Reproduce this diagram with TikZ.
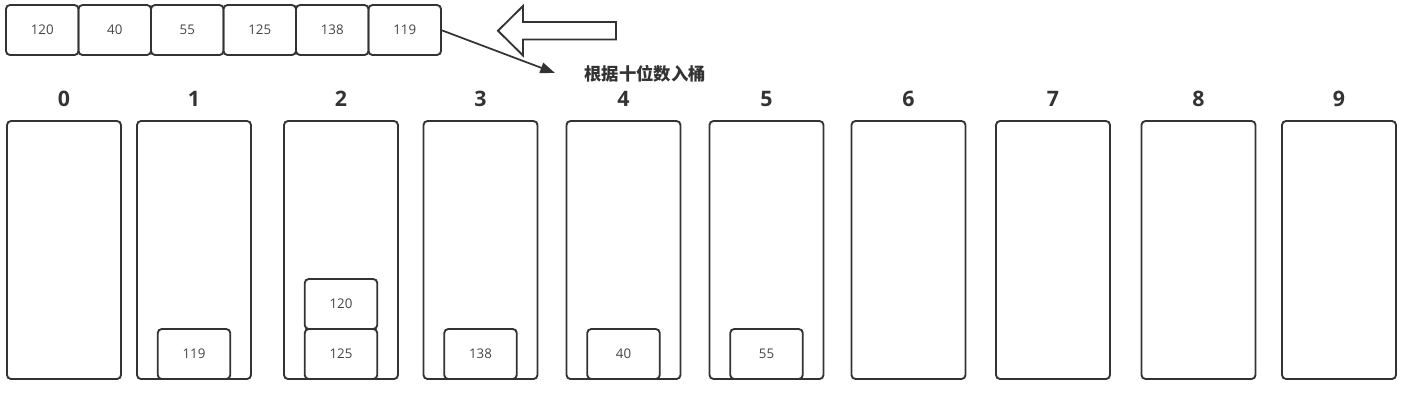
\documentclass[tikz,border=0pt]{standalone}
\usepackage{fontspec}
\setmainfont{Open Sans}
\newfontfamily\cjk{Noto Sans CJK SC}
\usetikzlibrary{arrows.meta}
\definecolor{linegray}{HTML}{333333}
\definecolor{textgray}{HTML}{444444}
\tikzset{>={Triangle[length=11pt,width=8pt]}}
\tikzset{
    cell/.style={draw=linegray,line width=1.4pt,rounded corners=3pt,inner sep=0pt,outer sep=0pt,
        minimum width=54.4pt,minimum height=37.5pt,text=textgray,
        font=\fontsize{10}{12}\selectfont},
    bucket/.style={draw=linegray,line width=1.4pt,rounded corners=3pt,inner sep=0pt,outer sep=0pt,
        minimum width=85.5pt,minimum height=193.5pt},
    bucketlabel/.style={text=linegray,font=\fontsize{16}{19}\selectfont\bfseries}
}

\begin{document}
\begin{tikzpicture}[x=0.75pt,y=-0.75pt]
    \useasboundingbox (0,0) rectangle (1419,401);
    % array before the pass
    \foreach \v [count=\i] in {120,40,55,125,138,119} {
        \node[cell] (arr\i) at ({6+72.5*(\i-0.5)},30) {\v};
      }
    % hollow arrow
    \draw[draw=linegray,line width=1.4pt,fill=white]
        (616,22) -- (523,22) -- (523,6) -- (498,30.75) -- (523,55.5) -- (523,39.5) -- (616,39.5) -- cycle;
    \coordinate (tip) at (555,73);
    \draw[->,draw=linegray,fill=linegray,line width=1.3pt] (arr6.east) -- (tip);
    \node[text=linegray,font=\fontsize{13}{15}\selectfont\cjk\bfseries] (note) at (645,74) {根据十位数入桶};
    % buckets 0..9
    \foreach \cx [count=\k from 0] in {64,194,341,480.5,623.5,766.5,908.5,1053,1198.5,1339} {
        \node[bucket] (bucket\k) at (\cx,250) {};
        \node[bucketlabel] (lab\k) at (\cx,99) {\k};
      }
    \node[cell,anchor=south] (b1a) at (bucket1.south) {119};
    \node[cell,anchor=south] (b2a) at (bucket2.south) {125};
    \node[cell,anchor=south] (b2b) at (b2a.north) {120};
    \node[cell,anchor=south] (b3a) at (bucket3.south) {138};
    \node[cell,anchor=south] (b4a) at (bucket4.south) {40};
    \node[cell,anchor=south] (b5a) at (bucket5.south) {55};
\end{tikzpicture}
\end{document}
